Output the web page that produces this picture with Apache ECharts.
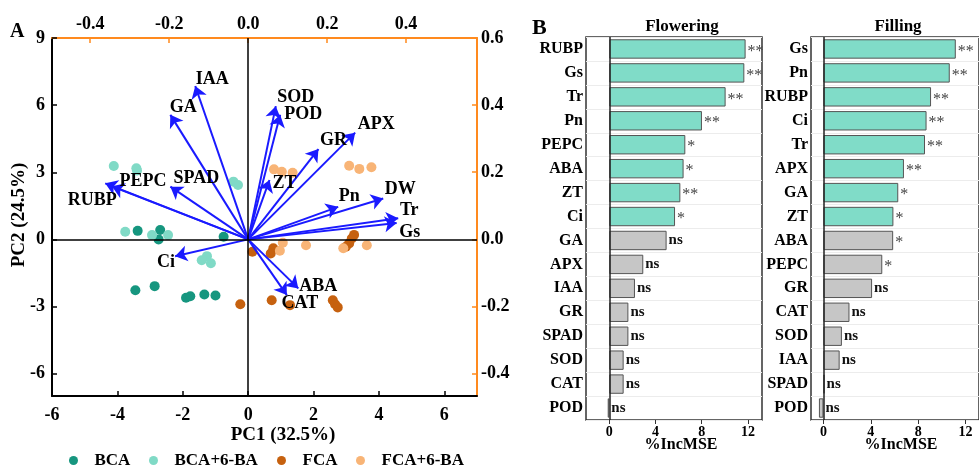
<!DOCTYPE html>
<html>
<head>
    <meta charset="utf-8">
    <script src="https://cdn.jsdelivr.net/npm/echarts@6/dist/echarts.min.js"></script>
    <style>
        html, body { margin: 0; padding: 0; background: #ffffff; }
        #main { width: 979px; height: 468px; }
    </style>
</head>
<body>
<div id="main"></div>
<script>
    // PCA scores (PC1, PC2) by treatment
    var groupNames = ['BCA', 'BCA+6-BA', 'FCA', 'FCA+6-BA'];
    var bcaScores = [[-3.38, 0.38], [-2.69, 0.42], [-2.74, 0.0], [-0.75, 0.12], [-3.45, -2.27], [-2.86, -2.09],
        [-1.90, -2.61], [-1.77, -2.54], [-1.34, -2.46], [-1.00, -2.51]];
    var bca6baScores = [[-4.11, 3.28], [-3.42, 3.18], [-3.40, 3.08], [-0.45, 2.58], [-0.31, 2.43], [-3.76, 0.34],
        [-2.94, 0.19], [-2.45, 0.19], [-1.26, -0.75], [-1.42, -0.93], [-1.14, -1.07]];
    var fcaScores = [[3.24, 0.20], [3.17, 0.04], [3.09, -0.18], [2.99, -0.33], [0.77, -0.40], [0.69, -0.63],
        [0.13, -0.55], [-0.24, -2.90], [0.72, -2.72], [1.28, -2.94], [2.59, -2.72], [2.66, -2.90], [2.74, -3.04]];
    var fca6baScores = [[0.79, 3.13], [1.03, 3.02], [1.36, 2.98], [3.09, 3.29], [3.40, 3.15], [3.77, 3.22],
        [1.06, -0.15], [0.97, -0.51], [1.77, -0.26], [2.91, -0.40], [3.63, -0.26]];

    // variable loadings (top / right axes)
    var varNames = ['RUBP', 'PEPC', 'SPAD', 'GA', 'IAA', 'SOD', 'POD', 'GR', 'APX', 'ZT', 'Pn', 'DW', 'Tr', 'Gs', 'Ci', 'ABA', 'CAT'];
    var pc1Loadings = [-0.362, -0.345, -0.197, -0.197, -0.134, 0.070, 0.081, 0.178, 0.271, 0.054, 0.228, 0.342, 0.380, 0.376, -0.185, 0.127, 0.098];
    var pc2Loadings = [0.167, 0.158, 0.157, 0.371, 0.457, 0.397, 0.371, 0.269, 0.318, 0.177, 0.097, 0.122, 0.063, 0.049, -0.050, -0.146, -0.166];

    // tick labels
    var pc1Ticks = [-6, -4, -2, 0, 2, 4, 6];
    var pc2Ticks = [-6, -3, 0, 3, 6, 9];
    var load1Ticks = [-0.4, -0.2, 0, 0.2, 0.4];
    var load2Ticks = [-0.4, -0.2, 0, 0.2, 0.4, 0.6];
    var mseTicks = [0, 4, 8, 12];

    // random forest importance
    var floweringVars = ['RUBP', 'Gs', 'Tr', 'Pn', 'PEPC', 'ABA', 'ZT', 'Ci', 'GA', 'APX', 'IAA', 'GR', 'SPAD', 'SOD', 'CAT', 'POD'];
    var floweringMSE = [11.8, 11.69, 10.07, 8.02, 6.58, 6.43, 6.15, 5.69, 4.96, 2.94, 2.22, 1.65, 1.65, 1.24, 1.24, -0.14];
    var floweringSig = ['**', '**', '**', '**', '*', '*', '**', '*', 'ns', 'ns', 'ns', 'ns', 'ns', 'ns', 'ns', 'ns'];
    var fillingVars = ['Gs', 'Pn', 'RUBP', 'Ci', 'Tr', 'APX', 'GA', 'ZT', 'ABA', 'PEPC', 'GR', 'CAT', 'SOD', 'IAA', 'SPAD', 'POD'];
    var fillingMSE = [11.18, 10.67, 9.09, 8.71, 8.58, 6.80, 6.32, 5.91, 5.89, 4.97, 4.11, 2.20, 1.56, 1.37, 0.10, -0.38];
    var fillingSig = ['**', '**', '**', '**', '**', '**', '*', '*', '*', '*', 'ns', 'ns', 'ns', 'ns', 'ns', 'ns'];

    // styling
    var serif = "'Liberation Serif', 'Times New Roman', serif";
    var orange = '#ff8a1e';
    var arrowBlue = '#1a1aff';
    var groupColors = ['#16967f', '#80dac6', '#c6610f', '#f8b476'];
    var legendLefts = [69, 149, 277, 356];
    var labelOffsets = {
        RUBP: [-13, 17], PEPC: [31, -5], SPAD: [26, -8], GA: [13, -8], IAA: [17, -7], SOD: [20, -9],
        POD: [23, -1], GR: [15, -9], APX: [21, -8], ZT: [15, 3], Pn: [11, -10], DW: [17, -9],
        Tr: [11, -8], Gs: [13, 9], Ci: [-9, 6], ABA: [20, -2], CAT: [13, 8]
    };
    var highlightCount = 8;
    var scale1 = 12.08, scale2 = 15;

    var chart = echarts.init(document.getElementById('main'), null, { renderer: 'canvas' });

    var arrowData = [], tipData = [];
    for (var i = 0; i < varNames.length; i++) {
        arrowData.push({ coords: [[0, 0], [pc1Loadings[i], pc2Loadings[i]]] });
        tipData.push({
            name: varNames[i],
            value: [pc1Loadings[i], pc2Loadings[i]],
            label: { offset: labelOffsets[varNames[i]] }
        });
    }

    function barData(values) {
        return values.map(function (v, idx) {
            return {
                value: v,
                itemStyle: { color: idx < highlightCount ? '#80dcc8' : '#c6c6c6' }
            };
        });
    }

    function sigLabel(sig) {
        return {
            show: true,
            position: 'right',
            distance: 2,
            formatter: function (p) {
                var s = sig[p.dataIndex];
                return s === 'ns' ? '{n|ns}' : '{s|' + s + '}';
            },
            rich: {
                n: { fontFamily: serif, fontWeight: 'bold', fontSize: 15, color: '#111' },
                s: { fontFamily: serif, fontSize: 16, color: '#444', padding: [5, 0, 0, 0] }
            }
        };
    }

    function pcaAxis(extra) {
        return Object.assign({
            type: 'value',
            gridIndex: 0,
            axisLine: { show: true, onZero: false, lineStyle: { color: '#000', width: 2 } },
            axisTick: { show: true, inside: true, length: 5, lineStyle: { color: '#000', width: 1.5 } },
            splitLine: { show: false },
            axisLabel: { color: '#000', fontFamily: serif, fontWeight: 'bold', fontSize: 18 }
        }, extra);
    }

    function barYAxis(idx, cats) {
        return {
            type: 'category',
            gridIndex: idx,
            data: cats,
            inverse: true,
            axisLine: { show: false },
            axisTick: { show: false },
            splitLine: { show: true, interval: 0, lineStyle: { color: '#ececec', width: 1 } },
            axisLabel: { color: '#000', fontFamily: serif, fontWeight: 'bold', fontSize: 16, margin: 3, interval: 0 }
        };
    }

    function barXAxis(idx, min, max) {
        return {
            type: 'value',
            gridIndex: idx,
            min: min,
            max: max,
            axisLine: { show: false },
            axisTick: { show: true, length: 4, customValues: mseTicks, lineStyle: { color: '#333' } },
            splitLine: { show: false },
            axisLabel: { customValues: mseTicks, color: '#000', fontFamily: serif, fontWeight: 'bold', fontSize: 14, margin: 5 }
        };
    }

    var zeroLine = {
        silent: true,
        symbol: 'none',
        label: { show: false },
        lineStyle: { color: '#222', width: 1.5, type: 'solid' },
        data: [{ xAxis: 0 }]
    };

    // one legend per group so each item sits where the reference puts it
    var legends = groupNames.map(function (name, k) {
        return {
            data: [name],
            left: legendLefts[k],
            top: 452,
            padding: 0,
            icon: 'circle',
            itemWidth: 32,
            itemHeight: 9,
            selectedMode: false,
            textStyle: { fontFamily: serif, fontWeight: 'bold', fontSize: 17, color: '#000' }
        };
    });

    var option = {
        animation: false,
        textStyle: { fontFamily: serif },
        grid: [
            { left: 52, top: 38, width: 425, height: 358 },
            { left: 586, top: 37, width: 176, height: 383, show: true, borderColor: '#333', borderWidth: 1.5, backgroundColor: '#fff' },
            { left: 811, top: 37, width: 176, height: 383, show: true, borderColor: '#333', borderWidth: 1.5, backgroundColor: '#fff' }
        ],
        legend: legends,
        xAxis: [
            pcaAxis({
                position: 'bottom', min: -6, max: 7,
                axisTick: { show: true, inside: true, length: 5, customValues: pc1Ticks, lineStyle: { color: '#000', width: 1.5 } },
                axisLabel: { customValues: pc1Ticks, color: '#000', fontFamily: serif, fontWeight: 'bold', fontSize: 18, margin: 10 }
            }),
            pcaAxis({
                position: 'top', min: -6 / scale1, max: 7 / scale1,
                axisLine: { show: true, onZero: false, lineStyle: { color: orange, width: 2 } },
                axisTick: { show: true, inside: true, length: 5, customValues: load1Ticks, lineStyle: { color: orange, width: 1.5 } },
                axisLabel: {
                    customValues: load1Ticks, color: '#000', fontFamily: serif, fontWeight: 'bold', fontSize: 18, margin: 5,
                    formatter: function (v) { return v.toFixed(1); }
                }
            }),
            barXAxis(1, -2.02, 13.22),
            barXAxis(2, -1.05, 13.14)
        ],
        yAxis: [
            pcaAxis({
                position: 'left', min: -7, max: 9,
                axisTick: { show: true, inside: true, length: 5, customValues: pc2Ticks, lineStyle: { color: '#000', width: 1.5 } },
                axisLabel: { customValues: pc2Ticks, color: '#000', fontFamily: serif, fontWeight: 'bold', fontSize: 18, margin: 7 }
            }),
            pcaAxis({
                position: 'right', min: -7 / scale2, max: 9 / scale2,
                axisLine: { show: true, onZero: false, lineStyle: { color: orange, width: 2 } },
                axisTick: { show: true, inside: true, length: 5, customValues: load2Ticks, lineStyle: { color: orange, width: 1.5 } },
                axisLabel: {
                    customValues: load2Ticks, color: '#000', fontFamily: serif, fontWeight: 'bold', fontSize: 18, margin: 4,
                    formatter: function (v) { return v.toFixed(1); }
                }
            }),
            barYAxis(1, floweringVars),
            barYAxis(2, fillingVars)
        ],
        series: [
            {
                name: groupNames[0], type: 'scatter', xAxisIndex: 0, yAxisIndex: 0,
                symbolSize: 10, itemStyle: { color: groupColors[0], opacity: 1 }, data: bcaScores,
                markLine: {
                    silent: true, symbol: 'none', label: { show: false },
                    lineStyle: { color: '#000', width: 1.5, type: 'solid' },
                    data: [{ xAxis: 0 }, { yAxis: 0 }]
                }
            },
            { name: groupNames[1], type: 'scatter', xAxisIndex: 0, yAxisIndex: 0, symbolSize: 10, itemStyle: { color: groupColors[1], opacity: 1 }, data: bca6baScores },
            { name: groupNames[2], type: 'scatter', xAxisIndex: 0, yAxisIndex: 0, symbolSize: 10, itemStyle: { color: groupColors[2], opacity: 1 }, data: fcaScores },
            { name: groupNames[3], type: 'scatter', xAxisIndex: 0, yAxisIndex: 0, symbolSize: 10, itemStyle: { color: groupColors[3], opacity: 1 }, data: fca6baScores },
            {
                type: 'lines',
                coordinateSystem: 'cartesian2d',
                xAxisIndex: 1, yAxisIndex: 1,
                symbol: ['none', 'arrow'],
                symbolSize: 12,
                lineStyle: { color: arrowBlue, width: 2, opacity: 1 },
                data: arrowData,
                z: 3
            },
            {
                type: 'scatter',
                xAxisIndex: 1, yAxisIndex: 1,
                symbolSize: 0,
                silent: true,
                itemStyle: { opacity: 1 },
                label: {
                    show: true, position: 'inside',
                    formatter: '{b}',
                    color: '#000', opacity: 1, fontFamily: serif, fontWeight: 'bold', fontSize: 18
                },
                data: tipData,
                z: 4
            },
            {
                type: 'bar', xAxisIndex: 2, yAxisIndex: 2,
                barCategoryGap: '19%',
                itemStyle: { borderColor: '#555', borderWidth: 1 },
                label: sigLabel(floweringSig),
                data: barData(floweringMSE),
                markLine: zeroLine
            },
            {
                type: 'bar', xAxisIndex: 3, yAxisIndex: 3,
                barCategoryGap: '19%',
                itemStyle: { borderColor: '#555', borderWidth: 1 },
                label: sigLabel(fillingSig),
                data: barData(fillingMSE),
                markLine: zeroLine
            }
        ],
        graphic: [
            { type: 'text', left: 10, top: 22, style: { text: 'A', font: 'bold 20px ' + serif, fill: '#000' } },
            { type: 'text', left: 532, top: 17, style: { text: 'B', font: 'bold 22px ' + serif, fill: '#000' } },
            { type: 'text', x: 283, y: 435, style: { text: 'PC1 (32.5%)', font: 'bold 19px ' + serif, fill: '#000', textAlign: 'center', textVerticalAlign: 'middle' } },
            { type: 'text', x: 19, y: 215, rotation: Math.PI / 2, style: { text: 'PC2 (24.5%)', font: 'bold 19px ' + serif, fill: '#000', textAlign: 'center', textVerticalAlign: 'middle' } },
            { type: 'text', x: 682, y: 27, style: { text: 'Flowering', font: 'bold 17px ' + serif, fill: '#000', textAlign: 'center', textVerticalAlign: 'middle' } },
            { type: 'text', x: 898, y: 27, style: { text: 'Filling', font: 'bold 17px ' + serif, fill: '#000', textAlign: 'center', textVerticalAlign: 'middle' } },
            { type: 'text', x: 681, y: 445, style: { text: '%IncMSE', font: 'bold 16px ' + serif, fill: '#000', textAlign: 'center', textVerticalAlign: 'middle' } },
            { type: 'text', x: 901, y: 445, style: { text: '%IncMSE', font: 'bold 16px ' + serif, fill: '#000', textAlign: 'center', textVerticalAlign: 'middle' } }
        ]
    };
    chart.setOption(option);
</script>
</body>
</html>
